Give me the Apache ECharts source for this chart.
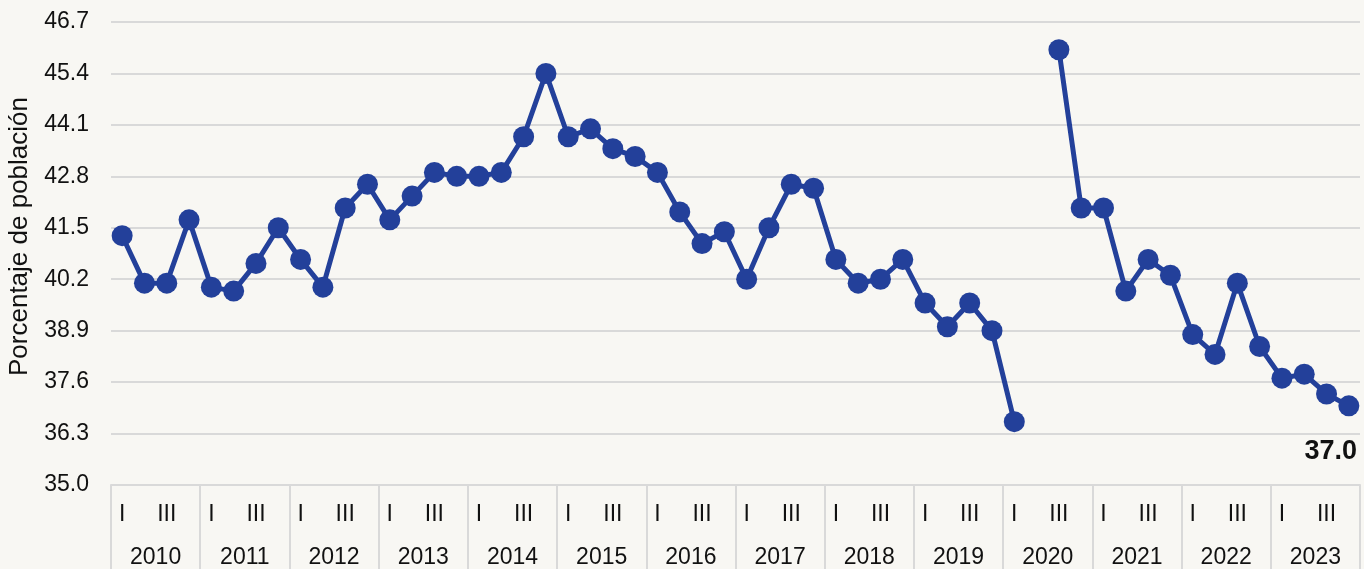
<!DOCTYPE html>
<html>
<head>
<meta charset="utf-8">
<script src="https://cdn.jsdelivr.net/npm/echarts@6/dist/echarts.min.js"></script>
<style>
  html, body { margin: 0; padding: 0; background: #f8f7f3; }
  #chart { width: 1364px; height: 569px; }
</style>
</head>
<body>
<div id="chart"></div>
<script>
// quarterly share of population, 2010-2023 (2020 II missing)
const years = ['2010', '2011', '2012', '2013', '2014', '2015', '2016',
  '2017', '2018', '2019', '2020', '2021', '2022', '2023'];
const quarterNames = ['I', '', 'III', ''];
const values = [
  41.3, 40.1, 40.1, 41.7,
  40.0, 39.9, 40.6, 41.5,
  40.7, 40.0, 42.0, 42.6,
  41.7, 42.3, 42.9, 42.8,
  42.8, 42.9, 43.8, 45.4,
  43.8, 44.0, 43.5, 43.3,
  42.9, 41.9, 41.1, 41.4,
  40.2, 41.5, 42.6, 42.5,
  40.7, 40.1, 40.2, 40.7,
  39.6, 39.0, 39.6, 38.9,
  36.6, null, 46.0, 42.0,
  42.0, 39.9, 40.7, 40.3,
  38.8, 38.3, 40.1, 38.5,
  37.7, 37.8, 37.3, 37.0
];
const yTicks = [35.0, 36.3, 37.6, 38.9, 40.2, 41.5, 42.8, 44.1, 45.4, 46.7];

const quarters = [];
years.forEach(y => quarterNames.forEach((q, i) => quarters.push(y + '-' + (i + 1))));

const lastIdx = values.length - 1;
const seriesData = values.map((v, i) => {
  if (i !== lastIdx) return v;
  return {
    value: v,
    label: {
      show: true,
      position: 'bottom',
      distance: 22,
      offset: [-18, 0],
      formatter: p => p.value.toFixed(1),
      fontSize: 27,
      fontWeight: 'bold',
      color: '#111'
    }
  };
});

const font = 'Liberation Sans, Arial, sans-serif';
const grey = '#d9d9d9';

const chart = echarts.init(document.getElementById('chart'));
chart.setOption({
  backgroundColor: '#f8f7f3',
  animation: false,
  textStyle: { fontFamily: font },
  grid: { left: 111, right: 4, top: 22, bottom: 84, outerBoundsMode: 'none' },
  xAxis: [
    {
      type: 'category',
      data: quarters,
      boundaryGap: true,
      axisLine: { show: true, lineStyle: { color: grey, width: 2 } },
      axisTick: { show: false },
      axisLabel: {
        interval: 0,
        margin: 18,
        fontSize: 23,
        color: '#111',
        formatter: (v, i) => quarterNames[i % 4]
      }
    },
    {
      type: 'category',
      data: years,
      position: 'bottom',
      boundaryGap: true,
      axisLine: { show: false },
      axisTick: { show: true, length: 90, lineStyle: { color: grey, width: 2 } },
      axisLabel: { interval: 0, margin: 61, fontSize: 23, color: '#111' }
    }
  ],
  yAxis: {
    type: 'value',
    min: 35,
    max: 46.7,
    name: 'Porcentaje de población',
    nameLocation: 'middle',
    nameGap: 78,
    nameTextStyle: { fontSize: 26, color: '#111', padding: [0, 0, 0, 34] },
    axisLine: { show: false },
    axisTick: { show: false, customValues: yTicks },
    axisLabel: {
      customValues: yTicks,
      margin: 22,
      fontSize: 23,
      color: '#111',
      formatter: v => v.toFixed(1)
    },
    splitLine: { show: true, lineStyle: { color: grey, width: 2 } }
  },
  series: [{
    type: 'line',
    data: seriesData,
    xAxisIndex: 0,
    connectNulls: false,
    symbol: 'circle',
    symbolSize: 21,
    itemStyle: { color: '#23409a' },
    lineStyle: { color: '#23409a', width: 5 }
  }]
});
</script>
</body>
</html>
